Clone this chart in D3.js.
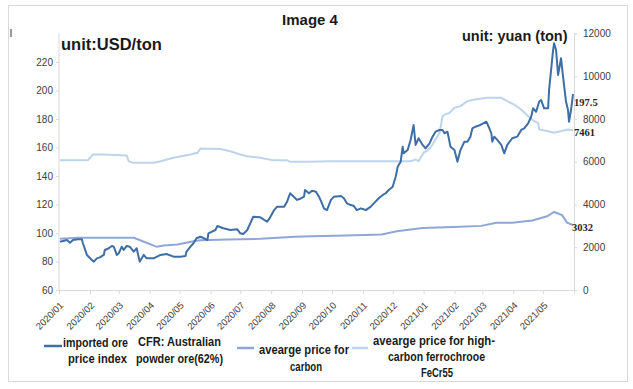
<!DOCTYPE html>
<html>
<head>
<meta charset="utf-8">
<script src="https://cdn.jsdelivr.net/npm/d3@7"></script>
<style>
  body { margin: 0; background: #fff; }
  svg { display: block; font-family: "Liberation Sans", Arial, sans-serif; }
</style>
</head>
<body>
<div id="wrapper"></div>
<script>
// imported ore price index (USD/ton, left axis)
const oreData = [
  ["2020-01-02", 93.9], ["2020-01-09", 95.1], ["2020-01-12", 93.2], ["2020-01-15", 95.1],
  ["2020-01-20", 95.6], ["2020-01-24", 95.6], ["2020-01-25", 92.8], ["2020-01-29", 84.6],
  ["2020-02-03", 81.1], ["2020-02-05", 79.9], ["2020-02-08", 82.2], ["2020-02-11", 82.9],
  ["2020-02-15", 84.6], ["2020-02-16", 88.1], ["2020-02-20", 89.3], ["2020-02-23", 90.9],
  ["2020-02-25", 90.4], ["2020-02-28", 84.6], ["2020-03-01", 85.8], ["2020-03-04", 90.4],
  ["2020-03-06", 88.1], ["2020-03-09", 90.9], ["2020-03-12", 90.4], ["2020-03-16", 86.9],
  ["2020-03-19", 89.3], ["2020-03-22", 79.9], ["2020-03-26", 84.6], ["2020-03-29", 82.2],
  ["2020-04-05", 82.2], ["2020-04-12", 84.6], ["2020-04-18", 85.3], ["2020-04-25", 83.4],
  ["2020-05-02", 83.4], ["2020-05-07", 83.9], ["2020-05-08", 86.9], ["2020-05-12", 90.4],
  ["2020-05-15", 92.8], ["2020-05-18", 96.3], ["2020-05-22", 97.4], ["2020-05-29", 95.1],
  ["2020-05-30", 99.8], ["2020-06-06", 102.1], ["2020-06-08", 104.9], ["2020-06-14", 103.3],
  ["2020-06-21", 102.1], ["2020-06-28", 102.6], ["2020-07-01", 99.8], ["2020-07-04", 99.3],
  ["2020-07-08", 102.1], ["2020-07-11", 106.8], ["2020-07-14", 111.4], ["2020-07-21", 111],
  ["2020-07-28", 107.9], ["2020-07-31", 111], ["2020-08-04", 116.1], ["2020-08-07", 118.5],
  ["2020-08-14", 118.5], ["2020-08-17", 122], ["2020-08-20", 127.9], ["2020-08-27", 123.2],
  ["2020-08-30", 124], ["2020-09-03", 125.5], ["2020-09-04", 130.2], ["2020-09-08", 127.9],
  ["2020-09-11", 129.7], ["2020-09-15", 129], ["2020-09-18", 125.5], ["2020-09-21", 120.8],
  ["2020-09-23", 117.3], ["2020-09-26", 116.1], ["2020-09-30", 123.2], ["2020-10-03", 125.5],
  ["2020-10-10", 126], ["2020-10-13", 124.4], ["2020-10-16", 120.8], ["2020-10-20", 119.6],
  ["2020-10-23", 118.9], ["2020-10-26", 116.1], ["2020-10-30", 117.3], ["2020-11-04", 116.1],
  ["2020-11-09", 118.5], ["2020-11-12", 120.8], ["2020-11-17", 124.4], ["2020-11-21", 126.7],
  ["2020-11-24", 127.9], ["2020-11-27", 130.2], ["2020-12-01", 132.5], ["2020-12-02", 134.9],
  ["2020-12-04", 139.5], ["2020-12-06", 146.5], ["2020-12-09", 150], ["2020-12-11", 160.6],
  ["2020-12-12", 155.9], ["2020-12-16", 158.2], ["2020-12-19", 165.3], ["2020-12-22", 175.8],
  ["2020-12-24", 161.8], ["2020-12-27", 166.5], ["2020-12-31", 161.8], ["2021-01-03", 159.4],
  ["2021-01-07", 162.9], ["2021-01-10", 167.6], ["2021-01-13", 171.1], ["2021-01-17", 172.3],
  ["2021-01-20", 172.3], ["2021-01-22", 170], ["2021-01-25", 171.1], ["2021-01-28", 160.6],
  ["2021-02-01", 158.2], ["2021-02-04", 150], ["2021-02-07", 158.2], ["2021-02-11", 164.1],
  ["2021-02-14", 164.1], ["2021-02-17", 167.6], ["2021-02-19", 173.5], ["2021-02-22", 174.6],
  ["2021-02-27", 175.8], ["2021-03-05", 178.1], ["2021-03-08", 173.5], ["2021-03-10", 170],
  ["2021-03-11", 164.1], ["2021-03-13", 167.6], ["2021-03-16", 165.3], ["2021-03-20", 161.8],
  ["2021-03-23", 155.9], ["2021-03-26", 161.8], ["2021-03-31", 166.5], ["2021-04-05", 167.6],
  ["2021-04-09", 172.3], ["2021-04-12", 173.5], ["2021-04-16", 177], ["2021-04-19", 181.6],
  ["2021-04-21", 187.5], ["2021-04-24", 185.1], ["2021-04-27", 192.1], ["2021-04-29", 193.3],
  ["2021-05-02", 187.5], ["2021-05-06", 187.5], ["2021-05-07", 200.4], ["2021-05-11", 228.4],
  ["2021-05-12", 233.1], ["2021-05-14", 228.4], ["2021-05-16", 210.9], ["2021-05-19", 222.6],
  ["2021-05-21", 209.7], ["2021-05-24", 192.1], ["2021-05-26", 186.3], ["2021-05-27", 178.1],
  ["2021-05-29", 186.3], ["2021-05-31", 197.5]
];

// avearge price for carbon (yuan/ton, right axis)
const carbonData = [
  ["2020-01-02", 2400], ["2020-01-20", 2440], ["2020-02-10", 2440], ["2020-03-16", 2440],
  ["2020-03-29", 2210], ["2020-04-08", 2020], ["2020-04-15", 2080], ["2020-04-29", 2130],
  ["2020-05-15", 2280], ["2020-05-22", 2330], ["2020-06-18", 2360], ["2020-07-21", 2395],
  ["2020-08-25", 2490], ["2020-09-11", 2520], ["2020-10-15", 2550], ["2020-11-20", 2600],
  ["2020-12-05", 2750], ["2020-12-31", 2900], ["2021-01-31", 2950], ["2021-02-28", 3000],
  ["2021-03-15", 3150], ["2021-03-31", 3150], ["2021-04-20", 3250], ["2021-05-05", 3450],
  ["2021-05-12", 3650], ["2021-05-20", 3500], ["2021-05-25", 3150], ["2021-05-31", 3032]
];

// avearge price for high-carbon ferrochrooe FeCr55 (yuan/ton, right axis)
const fecrData = [
  ["2020-01-02", 6072], ["2020-01-30", 6072], ["2020-02-04", 6339], ["2020-02-14", 6339],
  ["2020-03-09", 6292], ["2020-03-11", 6025], ["2020-03-15", 5950], ["2020-04-05", 5950],
  ["2020-04-12", 6025], ["2020-04-25", 6184], ["2020-05-12", 6339], ["2020-05-19", 6418],
  ["2020-05-22", 6620], ["2020-06-11", 6600], ["2020-06-21", 6493], ["2020-07-01", 6339],
  ["2020-07-08", 6259], ["2020-07-21", 6184], ["2020-08-03", 6072], ["2020-08-17", 6072],
  ["2020-08-20", 5997], ["2020-09-07", 5997], ["2020-09-30", 6025], ["2020-12-19", 6025],
  ["2020-12-24", 6105], ["2020-12-27", 6025], ["2021-01-01", 6418], ["2021-01-06", 6573],
  ["2021-01-10", 6807], ["2021-01-13", 7040], ["2021-01-17", 7353], ["2021-01-18", 7588],
  ["2021-01-20", 8130], ["2021-01-22", 8210], ["2021-01-27", 8289], ["2021-02-01", 8523],
  ["2021-02-07", 8600], ["2021-02-14", 8833], ["2021-02-21", 8912], ["2021-03-06", 8990],
  ["2021-03-20", 8990], ["2021-03-26", 8833], ["2021-04-02", 8678], ["2021-04-09", 8443],
  ["2021-04-16", 8130], ["2021-04-22", 7896], ["2021-04-26", 7820], ["2021-04-27", 7508],
  ["2021-05-06", 7429], ["2021-05-12", 7353], ["2021-05-26", 7508], ["2021-05-31", 7461]
];

const leftTicks = [60, 80, 100, 120, 140, 160, 180, 200, 220];
const rightTicks = [0, 2000, 4000, 6000, 8000, 10000, 12000];
const monthLabels = ["2020/01", "2020/02", "2020/03", "2020/04", "2020/05", "2020/06",
  "2020/07", "2020/08", "2020/09", "2020/10", "2020/11", "2020/12",
  "2021/01", "2021/02", "2021/03", "2021/04", "2021/05"];

const colors = { ore: "#3e6ea6", carbon: "#8ea7d6", fecr: "#bdd4ec" };

const dimension = {
    width: 633,
    height: 389,
    margin: { top: 33.5, left: 59, bottom: 99, right: 59 }
};
dimension.boundedWidth = dimension.width - dimension.margin.left - dimension.margin.right;
dimension.boundedHeight = dimension.height - dimension.margin.top - dimension.margin.bottom;

const parseDate = d3.timeParse("%Y-%m-%d");
const xAccessor = d => parseDate(d[0]);
const yAccessor = d => d[1];

const svg = d3.select("#wrapper").append("svg")
    .attr("width", dimension.width)
    .attr("height", dimension.height);

// outer frame
svg.append("rect")
    .attr("x", 8.5).attr("y", 5.5)
    .attr("width", 619).attr("height", 376)
    .attr("fill", "none").attr("stroke", "#d9d9d9");
svg.append("line")
    .attr("x1", 11).attr("x2", 11).attr("y1", 29).attr("y2", 37)
    .attr("stroke", "#333");

const bounded = svg.append("g")
    .attr("transform", `translate(${dimension.margin.left}, ${dimension.margin.top})`);

const xScaler = d3.scaleTime()
    .domain([new Date(2020, 0, 1), new Date(2021, 5, 1)])
    .range([0, dimension.boundedWidth]);
const yScaler = d3.scaleLinear()
    .domain([60, 240])
    .range([dimension.boundedHeight, 0]);
const yScalerRight = d3.scaleLinear()
    .domain([0, 12000])
    .range([dimension.boundedHeight, 0]);

// axes
const monthTicks = d3.timeMonth.range(new Date(2020, 0, 1), new Date(2021, 5, 2));
const Ax_x = d3.axisBottom(xScaler)
    .tickValues(monthTicks)
    .tickSize(4)
    .tickFormat((d, i) => monthLabels[i] || "");
const Ax_y = d3.axisLeft(yScaler).tickValues(leftTicks).tickSize(3);
const Ax_y2 = d3.axisRight(yScalerRight).tickValues(rightTicks).tickSize(3).tickFormat(d3.format("d"));

const gx = bounded.append("g")
    .attr("transform", `translate(0, ${dimension.boundedHeight})`)
    .call(Ax_x);
gx.selectAll("text")
    .attr("x", 0).attr("y", 0).attr("dy", 0)
    .attr("transform", "translate(4.5,16) rotate(-45)")
    .attr("text-anchor", "end");
const gy = bounded.append("g").call(Ax_y);
const gy2 = bounded.append("g")
    .attr("transform", `translate(${dimension.boundedWidth}, 0)`)
    .call(Ax_y2);
gy2.selectAll("text").attr("x", 9);

[gx, gy, gy2].forEach(g => {
    g.select(".domain").attr("stroke", "#d9d9d9");
    g.selectAll(".tick line").attr("stroke", "#d9d9d9");
    g.selectAll("text").attr("fill", "#404040").style("font-size", "10px");
});
gx.selectAll("text").style("font-size", "9.5px");
gy.select(".domain").attr("d", `M0,${dimension.boundedHeight}V0`);

// lines
const lineLeft = d3.line().x(d => xScaler(xAccessor(d))).y(d => yScaler(yAccessor(d)));
const lineRight = d3.line().x(d => xScaler(xAccessor(d))).y(d => yScalerRight(yAccessor(d)));

bounded.append("path").attr("d", lineRight(fecrData))
    .attr("fill", "none").attr("stroke", colors.fecr).attr("stroke-width", 2);
bounded.append("path").attr("d", lineRight(carbonData))
    .attr("fill", "none").attr("stroke", colors.carbon).attr("stroke-width", 2);
bounded.append("path").attr("d", lineLeft(oreData))
    .attr("fill", "none").attr("stroke", colors.ore).attr("stroke-width", 2)
    .attr("stroke-linejoin", "round");

// end labels
const endLabel = (data, scale, dx, dy) => {
    const last = data[data.length - 1];
    bounded.append("text")
        .attr("x", xScaler(xAccessor(last)) + dx)
        .attr("y", scale(yAccessor(last)) + dy)
        .attr("font-family", "'Liberation Serif', serif")
        .attr("font-weight", "bold")
        .attr("font-size", 10.5)
        .attr("fill", "#262626")
        .text(last[1]);
};
endLabel(oreData, yScaler, 1, 12);
endLabel(fecrData, yScalerRight, 1, 5);
endLabel(carbonData, yScalerRight, -1, 6);

// titles
svg.append("text").attr("x", 310).attr("y", 25).attr("text-anchor", "middle")
    .attr("font-weight", "bold").attr("font-size", 15).attr("fill", "#1a1a1a").text("Image 4");
svg.append("text").attr("x", 61).attr("y", 50)
    .attr("font-weight", "bold").attr("font-size", 16.5).attr("fill", "#1a1a1a").text("unit:USD/ton");
svg.append("text").attr("x", 462).attr("y", 41)
    .attr("font-weight", "bold").attr("font-size", 14.5).attr("fill", "#1a1a1a").text("unit: yuan (ton)");

// legend (narrow condensed text, squeezed to the widths seen in the picture)
const legend = svg.append("g")
    .attr("font-weight", "bold").attr("font-size", 13.5).attr("fill", "#1a1a1a");
const legendItems = [
    { color: colors.ore, x: 44, w: 18, y: 346, lines: [[63, 347, 65, "imported ore"], [68, 363, 59, "price index"],
        [138, 346, 83, "CFR: Australian"], [136, 363, 87, "powder ore(62%)"]] },
    { color: colors.carbon, x: 237, w: 17, y: 348, lines: [[259, 354, 90, "avearge price for"], [290, 371, 32, "carbon"]] },
    { color: colors.fecr, x: 352, w: 16, y: 348, lines: [[373, 345, 122, "avearge price for high-"],
        [388, 361, 97, "carbon ferrochrooe"], [421, 377, 32, "FeCr55"]] }
];
legendItems.forEach(item => {
    legend.append("line")
        .attr("x1", item.x).attr("x2", item.x + item.w)
        .attr("y1", item.y).attr("y2", item.y)
        .attr("stroke", item.color).attr("stroke-width", 2.5);
    item.lines.forEach(([x, y, len, t]) => {
        legend.append("text").attr("x", x).attr("y", y)
            .attr("textLength", len).attr("lengthAdjust", "spacingAndGlyphs")
            .text(t);
    });
});
</script>
</body>
</html>
